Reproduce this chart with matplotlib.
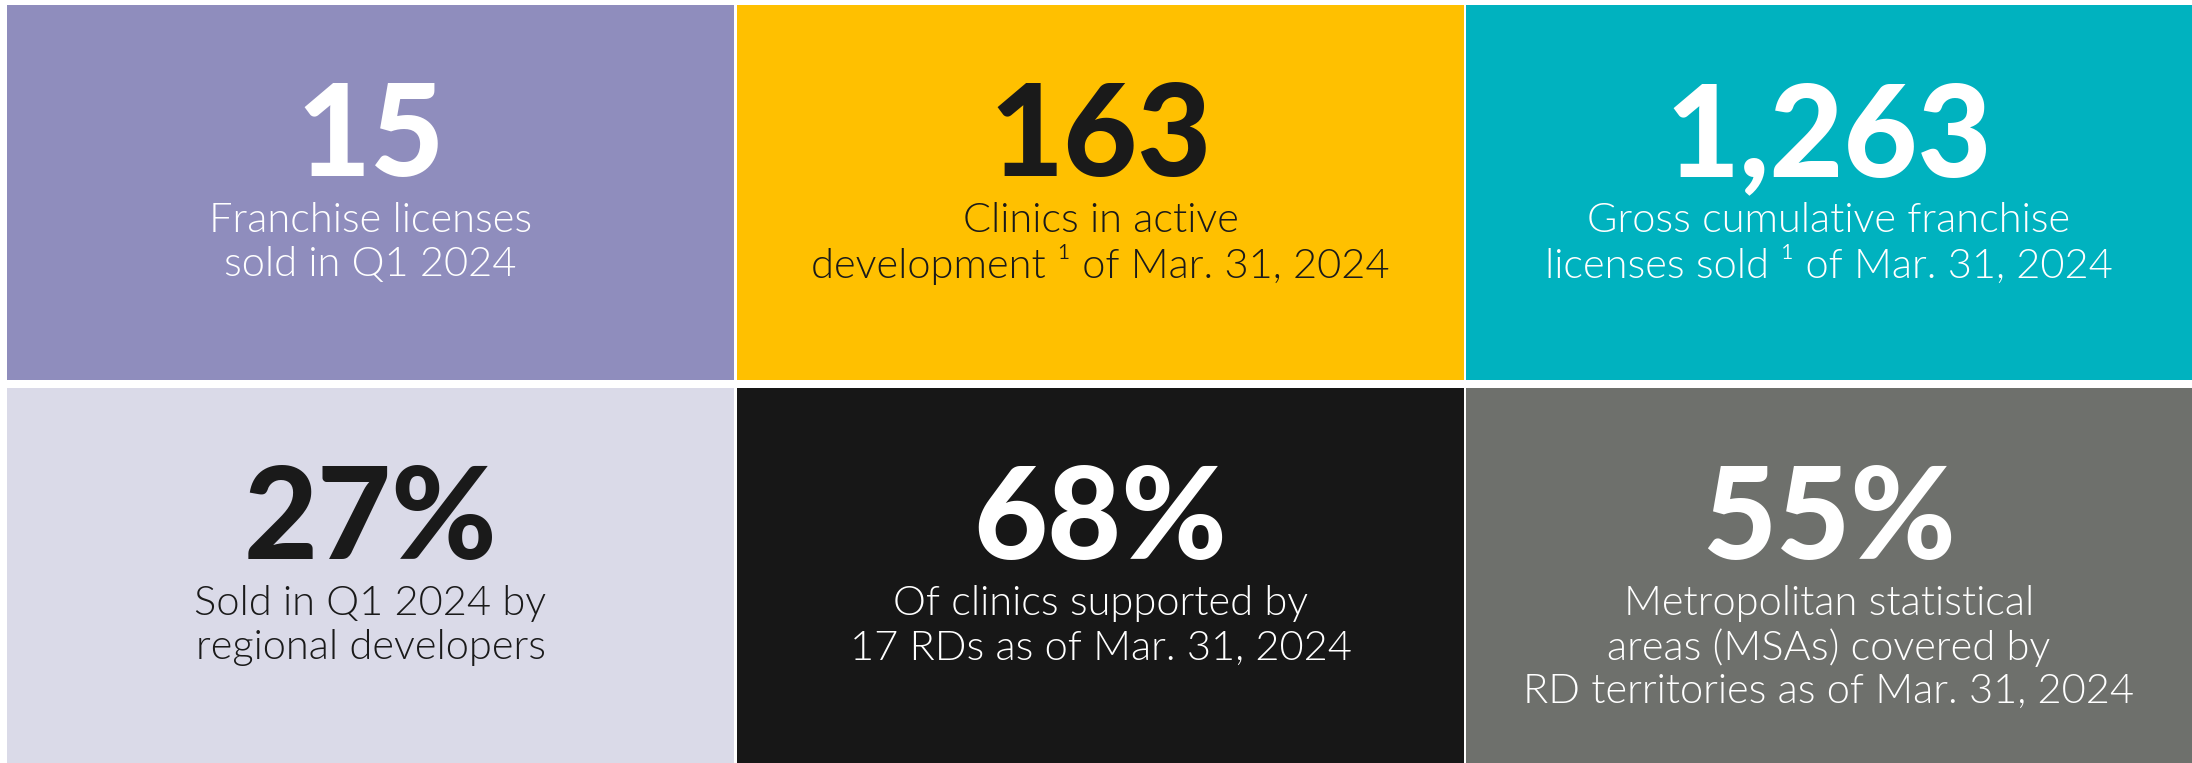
"""
KPI tile grid: six coloured panels with a headline figure and a caption
"""
import matplotlib
matplotlib.use("Agg")
from matplotlib import pyplot as plt

# Tile content, row-major (top row, then bottom row)
HEADLINES = ["15", "163", "1,263", "27%", "68%", "55%"]
CAPTIONS = [
    ["Franchise licenses", "sold in Q1 2024"],
    ["Clinics in active", "development \u00b9 of Mar. 31, 2024"],
    ["Gross cumulative franchise", "licenses sold \u00b9 of Mar. 31, 2024"],
    ["Sold in Q1 2024 by", "regional developers"],
    ["Of clinics supported by", "17 RDs as of Mar. 31, 2024"],
    ["Metropolitan statistical", "areas (MSAs) covered by", "RD territories as of Mar. 31, 2024"],
]
TILE_COLOURS = ["#8f8dbd", "#ffc000", "#00b2bf", "#dadae8", "#171717", "#6e706c"]
TEXT_COLOURS = ["white", "#1a1a1a", "white", "#1a1a1a", "white", "white"]

W, H = 2192, 763
COL_X = [7, 737, 1466]
COL_W = [727, 727, 726]
ROW_Y = [5, 388]
ROW_H = 375
LINE_STEP = 0.117

fig = plt.figure(figsize=(W / 100, H / 100), dpi=100)
fig.patch.set_facecolor("white")

for i, (headline, caption) in enumerate(zip(HEADLINES, CAPTIONS)):
    row, col = divmod(i, 3)
    ax = fig.add_axes([
        COL_X[col] / W, 1 - (ROW_Y[row] + ROW_H) / H,
        COL_W[col] / W, ROW_H / H
    ])
    ax.set_facecolor(TILE_COLOURS[i])
    ax.set_xticks([])
    ax.set_yticks([])
    for spine in ax.spines.values():
        spine.set_visible(False)
    ax.set_xlim(0, 1)
    ax.set_ylim(0, 1)

    ax.text(
        0.5, 0.67, headline, ha="center", va="center_baseline",
        fontsize=92, fontweight="black", family=["Lato", "DejaVu Sans"],
        color=TEXT_COLOURS[i]
    )
    for j, line in enumerate(caption):
        ax.text(
            0.5, 0.424 - j * LINE_STEP, line, ha="center", va="center",
            fontsize=30, fontweight=300, family=["Lato", "DejaVu Sans"],
            color=TEXT_COLOURS[i]
        )

fig.savefig("out.png", dpi=100, facecolor=fig.get_facecolor())
